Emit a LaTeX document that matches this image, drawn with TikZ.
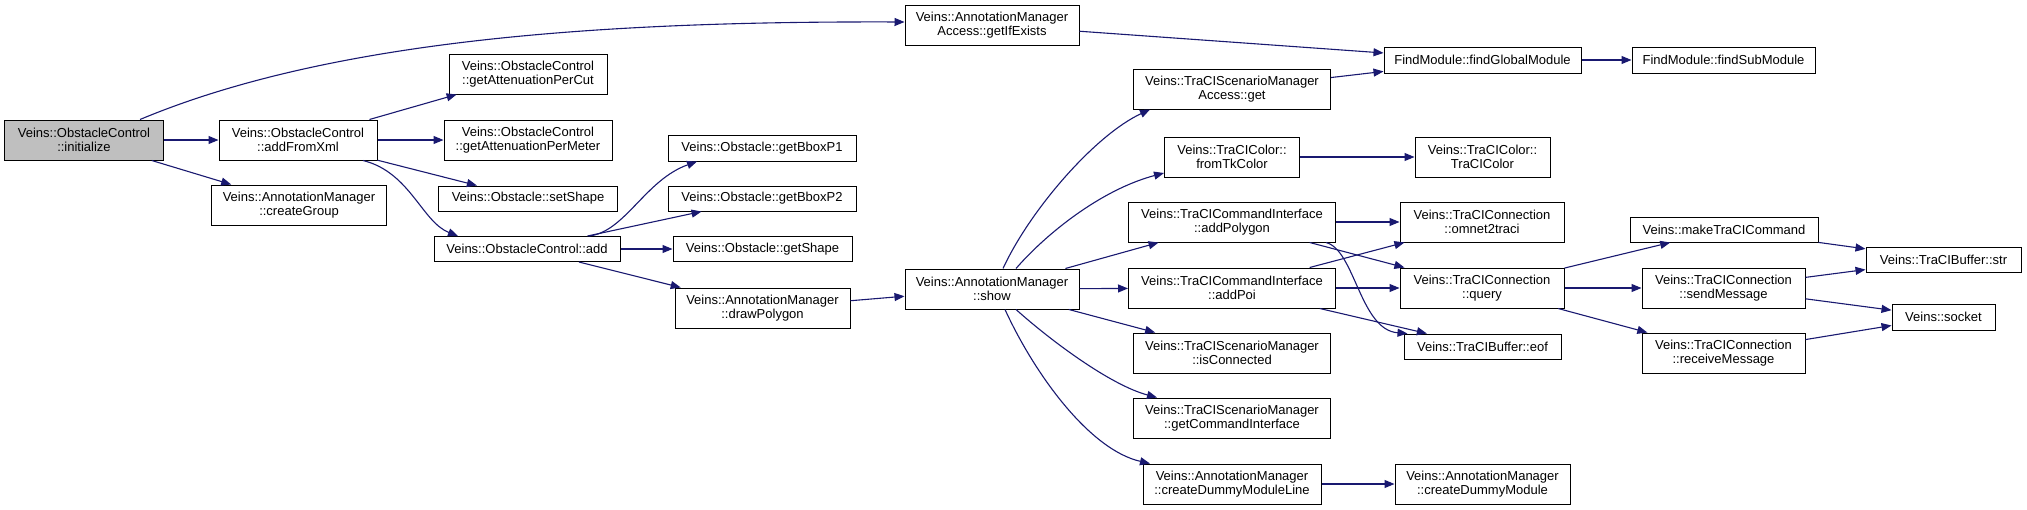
\documentclass[tikz,border=0pt]{standalone}
\usepackage{fontspec}
\setmainfont{Liberation Sans}
\usetikzlibrary{arrows.meta}
\definecolor{edgecol}{HTML}{191970}
\definecolor{startfill}{HTML}{BFBFBF}
\newcommand{\boxfont}{\fontsize{13pt}{14.4pt}\selectfont}
\tikzset{
  box/.style={draw=black, line width=1pt, fill=white, inner sep=0pt, align=center, font=\boxfont},
  bw/.style={minimum width=#1pt},
  bh/.style={minimum height=#1pt},
  edge/.style={draw=edgecol, line width=1.1pt, -{Triangle[length=10pt,width=8pt]}},
}
\begin{document}
\begin{tikzpicture}[x=1pt,y=-1pt]
\useasboundingbox (0,0) rectangle (2027,509);
% column 1
\node[box, fill=startfill, bw=159, bh=40] (init) at (84,140) {Veins::ObstacleControl\\::initialize};
% column 2
\node[box, bw=158, bh=40] (afx) at (298,140) {Veins::ObstacleControl\\::addFromXml};
\node[box, bw=175, bh=40] (cg) at (299,205) {Veins::AnnotationManager\\::createGroup};
% column 3
\node[box, bw=158, bh=40] (apc) at (528,74) {Veins::ObstacleControl\\::getAttenuationPerCut};
\node[box, bw=168, bh=40] (apm) at (528,140) {Veins::ObstacleControl\\::getAttenuationPerMeter};
\node[box, bw=179, bh=25] (ss) at (528,198.5) {Veins::Obstacle::setShape};
\node[box, bw=186, bh=25] (add) at (527,249) {Veins::ObstacleControl::add};
% column 4
\node[box, bw=188, bh=26] (bb1) at (762,148) {Veins::Obstacle::getBboxP1};
\node[box, bw=188, bh=25] (bb2) at (762,198.5) {Veins::Obstacle::getBboxP2};
\node[box, bw=179, bh=25] (gs) at (762.5,249) {Veins::Obstacle::getShape};
\node[box, bw=175, bh=40] (dp) at (762.5,308) {Veins::AnnotationManager\\::drawPolygon};
% column 5
\node[box, bw=174, bh=40] (gie) at (992,25) {Veins::AnnotationManager\\Access::getIfExists};
\node[box, bw=174, bh=40] (show) at (992,289) {Veins::AnnotationManager\\::show};
% column 6
\node[box, bw=197, bh=40] (tsm) at (1232,89) {Veins::TraCIScenarioManager\\Access::get};
\node[box, bw=135, bh=40] (ftk) at (1232,157) {Veins::TraCIColor::\\fromTkColor};
\node[box, bw=207, bh=40] (apg) at (1232,222) {Veins::TraCICommandInterface\\::addPolygon};
\node[box, bw=207, bh=40] (apoi) at (1232,288) {Veins::TraCICommandInterface\\::addPoi};
\node[box, bw=197, bh=40] (isc) at (1232,353) {Veins::TraCIScenarioManager\\::isConnected};
\node[box, bw=197, bh=40] (gci) at (1232,418) {Veins::TraCIScenarioManager\\::getCommandInterface};
\node[box, bw=178, bh=40] (cdml) at (1232,484) {Veins::AnnotationManager\\::createDummyModuleLine};
% column 7
\node[box, bw=197, bh=26] (fgm) at (1482.5,60) {FindModule::findGlobalModule};
\node[box, bw=135, bh=40] (tcc) at (1482.5,157) {Veins::TraCIColor::\\TraCIColor};
\node[box, bw=164, bh=40] (o2t) at (1482,222) {Veins::TraCIConnection\\::omnet2traci};
\node[box, bw=164, bh=40] (qry) at (1482,288) {Veins::TraCIConnection\\::query};
\node[box, bw=157, bh=25] (eof) at (1482.5,346.5) {Veins::TraCIBuffer::eof};
\node[box, bw=175, bh=40] (cdm) at (1482.5,484) {Veins::AnnotationManager\\::createDummyModule};
% column 8
\node[box, bw=183, bh=26] (fsm) at (1723.5,60) {FindModule::findSubModule};
\node[box, bw=188, bh=25] (mtc) at (1724,229.5) {Veins::makeTraCICommand};
\node[box, bw=163, bh=40] (snd) at (1723.5,288) {Veins::TraCIConnection\\::sendMessage};
\node[box, bw=163, bh=40] (rcv) at (1723.5,353) {Veins::TraCIConnection\\::receiveMessage};
% column 9
\node[box, bw=155, bh=25] (str) at (1943.5,259.5) {Veins::TraCIBuffer::str};
\node[box, bw=103, bh=26] (sock) at (1943.5,317) {Veins::socket};

% edges
\draw[edge] ([xshift=56pt]init.north) .. controls (330,40) and (600,21) .. ([yshift=3pt]gie.west);
\draw[edge] (init) -- (afx);
\draw[edge] (init) -- (cg);
\draw[edge] (afx) -- (apc);
\draw[edge] (afx) -- (apm);
\draw[edge] (afx) -- (ss);
\draw[edge] ([xshift=65pt]afx.south) .. controls (410,172) and (422,222) .. ([xshift=-69pt]add.north);
\draw[edge] ([xshift=62pt]add.north) .. controls (625,232) and (645,180) .. ([xshift=-65pt]bb1.south);
\draw[edge] (add) -- (bb2);
\draw[edge] (add) -- (gs);
\draw[edge] (add) -- (dp);
\draw[edge] (dp) -- (show);
\draw[edge] (gie) -- (fgm);
\draw[edge] ([xshift=11pt]show.north) .. controls (1030,210) and (1095,135) .. ([xshift=-82pt]tsm.south);
\draw[edge] ([xshift=24pt]show.north) .. controls (1045,235) and (1100,190) .. ([yshift=-16pt]ftk.west);
\draw[edge] (show) -- (apg);
\draw[edge] (show) -- (apoi);
\draw[edge] (show) -- (isc);
\draw[edge] ([xshift=24pt]show.south) .. controls (1050,340) and (1110,385) .. ([xshift=-75pt]gci.north);
\draw[edge] ([xshift=13pt]show.south) .. controls (1035,375) and (1090,450) .. ([xshift=-82pt]cdml.north);
\draw[edge] (tsm) -- (fgm);
\draw[edge] (fgm) -- (fsm);
\draw[edge] (ftk) -- (tcc);
\draw[edge] (apg) -- (o2t);
\draw[edge] (apg) -- (qry);
\draw[edge] ([xshift=-10pt]apg.south east) .. controls (1355,250) and (1360,330) .. ([xshift=-75pt]eof.north);
\draw[edge] (apoi) -- (o2t);
\draw[edge] (apoi) -- (qry);
\draw[edge] (apoi) -- (eof);
\draw[edge] (cdml) -- (cdm);
\draw[edge] (qry) -- (mtc);
\draw[edge] (qry) -- (snd);
\draw[edge] (qry) -- (rcv);
\draw[edge] (mtc) -- (str);
\draw[edge] (snd) -- (str);
\draw[edge] (snd) -- (sock);
\draw[edge] (rcv) -- (sock);
\end{tikzpicture}
\end{document}
